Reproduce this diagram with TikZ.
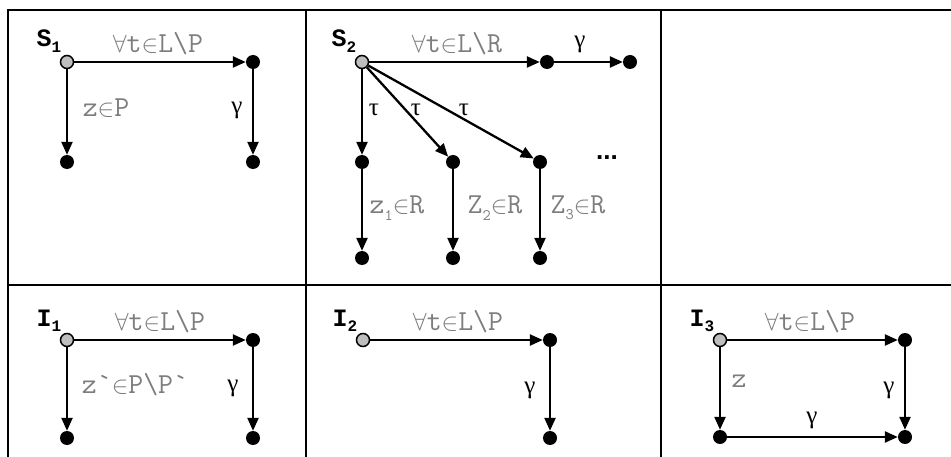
\documentclass[tikz,border=0pt]{standalone}
\usepackage{fontspec}
\setmainfont{Liberation Serif}
\newfontfamily\nmf{Liberation Mono}
\newfontfamily\dotf{Liberation Sans}
\usetikzlibrary{arrows.meta}
\definecolor{labgray}{RGB}{125,125,125}
\definecolor{nodegray}{RGB}{190,190,190}
\newcommand{\fa}{{\fontsize{25}{25}\selectfont$\forall$}}
\newcommand{\el}{{\fontsize{25}{25}\selectfont$\in$}}
\newcommand{\subs}[1]{\raisebox{-0.22em}{\fontsize{16}{16}\selectfont #1}}
\newcommand{\bs}{\textbackslash}
\tikzset{
  gridline/.style={line width=1.9pt},
  init/.style={circle, draw=black, fill=nodegray, line width=1.5pt, minimum size=13pt, inner sep=0pt},
  st/.style={circle, fill=black, minimum size=14pt, inner sep=0pt},
  arr/.style={line width=2.3pt, -{Triangle[length=13pt,width=11pt]}},
  lab/.style={text=labgray, font=\ttfamily\fontsize{29}{29}\selectfont, inner sep=0pt},
  gr/.style={font=\fontsize{25}{25}\selectfont, inner sep=0pt},
  nm/.style={font=\nmf\bfseries\fontsize{25}{25}\selectfont, inner sep=0pt},
}
\begin{document}
\begin{tikzpicture}[x=1pt,y=-1pt]
\useasboundingbox (0,0) rectangle (951,457);
% grid
\draw[gridline] (951,10) -- (8,10) -- (8,457);
\draw[gridline] (8,285) -- (951,285);
\draw[gridline] (306,10) -- (306,457);
\draw[gridline] (661,10) -- (661,457);

% ---- S1 ----
\node[init] (s1) at (67,62) {};
\node[st] (s1a) at (253,62) {};
\node[st] (s1b) at (67,162) {};
\node[st] (s1c) at (253,162) {};
\draw[arr] (s1) -- (s1a);
\draw[arr] (s1) -- (s1b);
\draw[arr] (s1a) -- (s1c);
\node[nm] (s1n) at (49,41) {S\subs{1}};
\node[lab] (s1l1) at (158,44) {\fa t\el L\bs P};
\node[lab] (s1l2) at (106,108) {z\el P};
\node[gr] (s1l3) at (237,110) {γ};

% ---- S2 ----
\node[init] (s2) at (362,62) {};
\node[st] (s2a) at (547,62) {};
\node[st] (s2b) at (630,62) {};
\node[st] (s2c) at (362,162) {};
\node[st] (s2d) at (453,162) {};
\node[st] (s2e) at (540,162) {};
\node[st] (s2f) at (362,258) {};
\node[st] (s2g) at (453,258) {};
\node[st] (s2h) at (540,258) {};
\draw[arr] (s2) -- (s2a);
\draw[arr] (s2a) -- (s2b);
\draw[arr] (s2) -- (s2c);
\draw[arr] (s2) -- (s2d);
\draw[arr] (s2) -- (s2e);
\draw[arr] (s2c) -- (s2f);
\draw[arr] (s2d) -- (s2g);
\draw[arr] (s2e) -- (s2h);
\node[nm] (s2n) at (344,41) {S\subs{2}};
\node[lab] (s2l1) at (457,44) {\fa t\el L\bs R};
\node[gr] (s2l2) at (580,44) {γ};
\node[gr] (s2t1) at (374,110) {τ};
\node[gr] (s2t2) at (416,110) {τ};
\node[gr] (s2t3) at (464,110) {τ};
\node[font=\dotf\bfseries\fontsize{26}{26}\selectfont, inner sep=0pt] (s2dots) at (607,158) {...};
\node[lab] (s2z1) at (397,208) {z\subs{1}\el R};
\node[lab] (s2z2) at (495,208) {Z\subs{2}\el R};
\node[lab] (s2z3) at (578,208) {Z\subs{3}\el R};

% ---- I1 ----
\node[init] (i1) at (67,340) {};
\node[st] (i1a) at (253,340) {};
\node[st] (i1b) at (67,438) {};
\node[st] (i1c) at (253,438) {};
\draw[arr] (i1) -- (i1a);
\draw[arr] (i1) -- (i1b);
\draw[arr] (i1a) -- (i1c);
\node[nm] (i1n) at (49,321) {I\subs{1}};
\node[lab] (i1l1) at (160,322) {\fa t\el L\bs P};
\node[lab] (i1l2) at (135,385) {z`\el P\bs P`};
\node[gr] (i1l3) at (233,388) {γ};

% ---- I2 ----
\node[init] (i2) at (363,340) {};
\node[st] (i2a) at (550,340) {};
\node[st] (i2b) at (550,438) {};
\draw[arr] (i2) -- (i2a);
\draw[arr] (i2a) -- (i2b);
\node[nm] (i2n) at (345,321) {I\subs{2}};
\node[lab] (i2l1) at (458,322) {\fa t\el L\bs P};
\node[gr] (i2l2) at (530,390) {γ};

% ---- I3 ----
\node[init] (i3) at (720,340) {};
\node[st] (i3a) at (905,340) {};
\node[st] (i3b) at (720,437) {};
\node[st] (i3c) at (905,437) {};
\draw[arr] (i3) -- (i3a);
\draw[arr] (i3) -- (i3b);
\draw[arr] (i3a) -- (i3c);
\draw[arr] (i3b) -- (i3c);
\node[nm] (i3n) at (702,321) {I\subs{3}};
\node[lab] (i3l1) at (810,322) {\fa t\el L\bs P};
\node[lab] (i3l2) at (739,381) {z};
\node[gr] (i3l3) at (889,390) {γ};
\node[gr] (i3l4) at (812,420) {γ};
\end{tikzpicture}
\end{document}
